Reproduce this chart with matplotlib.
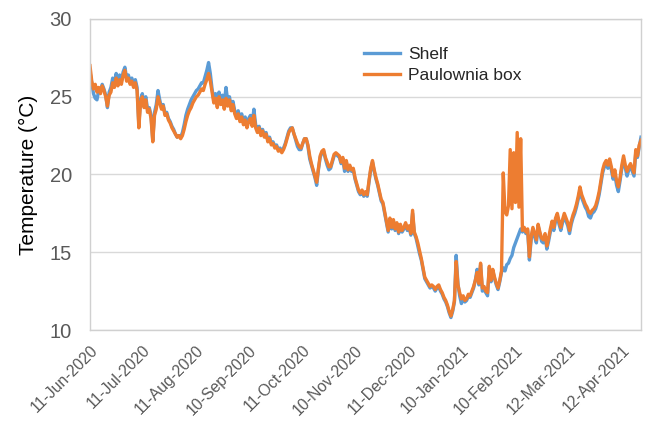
import matplotlib
matplotlib.use("Agg")
import matplotlib.pyplot as plt
import pandas as pd

start_date = "2020-06-11"

paulownia_box = [
    27.0, 26.0, 25.5, 25.8, 25.3, 25.6, 25.2, 25.7, 25.4, 25.0,
    24.4, 25.1, 25.3, 25.9, 25.6, 26.2, 25.7, 26.1, 25.8, 26.4,
    26.7, 26.0, 26.2, 25.8, 26.0, 25.6, 25.9, 25.4, 23.0, 24.6,
    25.0, 24.3, 24.8, 24.0, 24.2, 23.6, 22.1, 23.8, 24.2, 25.0,
    24.6, 24.2, 24.4, 23.8, 23.9, 23.5, 23.3, 23.0, 22.8, 22.6,
    22.4, 22.5, 22.3, 22.5, 22.9, 23.4, 23.8, 24.1, 24.3, 24.6,
    24.8, 25.0, 25.1, 25.3, 25.5, 25.4, 25.8, 26.1, 26.5, 26.0,
    25.3, 24.6, 24.9, 24.3, 25.0, 24.5, 24.8, 24.2, 24.9, 24.4,
    24.8, 24.1, 24.5, 23.9, 23.6, 23.9, 23.4, 23.7, 23.2, 23.5,
    23.0, 23.4, 23.6, 23.1, 23.8, 23.0, 22.7, 23.0, 22.5, 22.8,
    22.4, 22.6, 22.1, 22.3, 21.9, 22.0, 21.7, 21.8, 21.5, 21.6,
    21.4, 21.6, 21.9, 22.3, 22.7, 22.9, 23.0, 22.6, 22.3, 22.0,
    21.8, 21.7, 22.0, 22.3, 22.3, 21.9, 21.2, 20.7, 20.3, 19.9,
    19.5, 20.4, 21.2, 21.5, 21.6, 21.1, 20.8, 20.5, 20.5, 20.9,
    21.3, 21.4, 21.3, 21.2, 20.8, 21.1, 20.4, 20.9, 20.3, 20.6,
    20.3, 20.4, 19.8, 19.4, 19.0, 18.8, 19.0, 18.7, 18.9, 18.7,
    19.6, 20.4, 20.9, 20.3, 19.8, 19.4, 18.9, 18.4, 18.2, 17.6,
    17.0, 16.4, 17.2, 16.6, 17.1, 16.5, 16.9, 16.3, 16.8, 16.4,
    16.6, 16.9, 16.5, 16.7, 16.2, 17.7, 16.3, 16.0, 15.6, 15.1,
    14.6, 14.0, 13.4, 13.2, 13.0, 12.8, 12.9, 12.8, 12.6, 12.8,
    12.9, 12.6, 12.4, 12.1, 11.9, 11.6, 11.2, 10.9, 11.3, 11.9,
    14.4, 12.9, 12.4, 12.0, 12.2, 11.9, 12.0, 12.3, 12.2, 12.5,
    12.8, 13.2, 13.7, 13.0, 14.3, 12.7, 12.8, 12.5, 12.4, 14.1,
    13.2, 13.9, 13.4, 13.0, 12.7, 13.2, 13.8, 20.1, 17.6, 17.4,
    18.0, 21.6, 17.8, 21.4, 18.2, 22.7, 17.9, 22.3, 16.4, 16.6,
    16.3, 16.5, 14.7, 16.0, 16.6, 16.2, 15.8, 16.8, 16.3, 15.9,
    15.8, 16.2, 15.4, 15.9, 16.5, 17.0, 16.6, 17.2, 17.5, 17.0,
    16.6, 17.1, 17.5, 17.2, 16.9, 16.4, 17.0, 17.4, 17.7, 18.1,
    18.6, 19.2, 18.7, 18.4, 18.1, 17.9, 17.6, 17.5, 17.7, 17.8,
    18.0, 18.4, 18.9, 19.6, 20.3, 20.7, 20.9, 20.6, 21.0, 20.5,
    19.9, 20.3, 19.6, 19.2, 19.8, 20.6, 21.2, 20.6, 20.2, 20.5,
    20.7, 20.4, 20.1, 21.6, 21.2, 21.9, 22.2,
]

shelf = [
    26.6, 25.9, 25.2, 24.9, 24.8, 25.4, 25.3, 25.8, 25.5, 25.1,
    24.3, 25.3, 25.6, 26.2, 25.8, 26.5, 25.9, 26.4, 26.0, 26.6,
    26.9, 26.2, 26.4, 26.0, 26.2, 25.8, 26.1, 25.6, 23.2, 24.8,
    25.2, 24.5, 25.0, 24.2, 24.3, 23.8, 22.2, 24.0, 24.5, 25.4,
    24.8, 24.3, 24.5, 23.9, 24.0, 23.6, 23.4, 23.1, 22.9, 22.6,
    22.4, 22.5, 22.4, 22.7, 23.2, 23.8, 24.2, 24.5, 24.8, 25.0,
    25.2, 25.4, 25.5, 25.7, 25.9, 25.9, 26.3, 26.7, 27.2, 26.5,
    25.5, 24.8, 25.2, 24.6, 25.3, 24.8, 25.1, 24.6, 25.6, 24.7,
    25.0, 24.3, 24.7, 24.1, 23.8, 24.1, 23.6, 23.9, 23.4, 23.7,
    23.2, 23.6, 23.8, 23.3, 24.2, 23.2, 22.9, 23.1, 22.7, 22.9,
    22.5, 22.7, 22.2, 22.4, 22.0, 22.1, 21.8, 21.9, 21.6, 21.7,
    21.5, 21.7, 22.0, 22.4, 22.8, 23.0, 23.0, 22.6, 22.2, 21.8,
    21.6, 21.6, 22.0, 22.3, 22.3, 21.8, 21.0, 20.6, 20.2, 19.8,
    19.3, 20.3, 21.1, 21.4, 21.5, 21.0, 20.6, 20.3, 20.4, 20.8,
    21.2, 21.3, 21.2, 21.1, 20.7, 21.0, 20.2, 20.8, 20.2, 20.5,
    20.2, 20.3, 19.7, 19.3, 18.9, 18.7, 18.9, 18.6, 18.8, 18.6,
    19.5, 20.3, 20.8, 20.2, 19.7, 19.3, 18.8, 18.3, 18.1, 17.5,
    16.9, 16.3, 17.1, 16.5, 17.0, 16.4, 16.8, 16.2, 16.7, 16.3,
    16.5, 16.8, 16.4, 16.6, 16.1, 17.5, 16.2, 15.9, 15.4, 14.9,
    14.5, 13.9, 13.3, 13.1, 12.9, 12.7, 12.8, 12.7, 12.5, 12.7,
    12.8, 12.5, 12.3, 12.0, 11.8, 11.5, 11.1, 10.8, 11.2, 11.8,
    14.8, 13.0, 12.2, 11.7, 12.0, 11.8, 11.9, 12.2, 12.1, 12.4,
    12.7, 13.2, 13.9, 12.9, 14.2, 12.5, 12.6, 12.4, 12.2, 14.0,
    13.1, 13.8, 13.3, 12.9, 12.6, 13.1, 13.7, 14.0, 13.8, 14.2,
    14.3, 14.6, 14.8, 15.3, 15.6, 15.9, 16.2, 16.5, 16.3, 16.5,
    16.2, 16.4, 14.5, 15.8, 16.5, 16.0, 15.6, 16.7, 16.2, 15.7,
    15.6, 16.0, 15.2, 15.7, 16.3, 16.8, 16.4, 17.0, 17.3, 16.8,
    16.4, 16.9, 17.3, 17.0, 16.7, 16.2, 16.8, 17.2, 17.5, 17.9,
    18.4, 19.0, 18.5, 18.2, 17.9, 17.7, 17.3, 17.2, 17.5, 17.6,
    17.8, 18.2, 18.7, 19.4, 20.1, 20.5, 20.7, 20.4, 20.8, 20.3,
    19.7, 20.0, 19.3, 18.9, 19.6, 20.4, 21.0, 20.4, 19.9, 20.3,
    20.5, 20.2, 19.9, 21.4, 21.1, 21.8, 22.4,
]

tick_dates = ["2020-06-11", "2020-07-11", "2020-08-11", "2020-09-10", "2020-10-11",
              "2020-11-10", "2020-12-11", "2021-01-10", "2021-02-10", "2021-03-12",
              "2021-04-12"]
tick_labels = ["11-Jun-2020", "11-Jul-2020", "11-Aug-2020", "10-Sep-2020", "11-Oct-2020",
               "10-Nov-2020", "11-Dec-2020", "10-Jan-2021", "10-Feb-2021", "12-Mar-2021",
               "12-Apr-2021"]
y_ticks = [10, 15, 20, 25, 30]

plt.rcParams['font.family'] = ['Liberation Sans', 'DejaVu Sans']

dates = pd.date_range(start_date, periods=len(paulownia_box), freq="D")

fig = plt.figure(figsize=(6.47, 4.21), dpi=100)
ax = fig.add_axes([90/647, 91/421, 551/647, 311/421])

ax.plot(dates, shelf, color="#5B9BD5", lw=2.4, label="Shelf", solid_joinstyle="round")
ax.plot(dates, paulownia_box, color="#ED7D31", lw=2.4, label="Paulownia box", solid_joinstyle="round")

ax.set_xlim(dates[0], dates[-1])
ax.set_ylim(10, 30)
ax.set_yticks(y_ticks)
ax.yaxis.grid(True, color="#D9D9D9", lw=1.0)
ax.set_axisbelow(True)

ax.set_xticks(pd.to_datetime(tick_dates))
ax.set_xticklabels(tick_labels, rotation=45, ha="right", va="top", rotation_mode="anchor",
                   fontsize=11.3, color="#595959")
ax.tick_params(axis="x", length=0, pad=9)
ax.tick_params(axis="y", length=0, pad=13, labelsize=14.5, labelcolor="#595959")

for s in ax.spines.values():
    s.set_color("#D0D0D0")
    s.set_linewidth(1.0)

ax.set_ylabel("Temperature (°C)", fontsize=15, color="#000000", labelpad=8)

leg = ax.legend(loc="upper left", bbox_to_anchor=(0.475, 0.95), frameon=False,
                fontsize=12.5, handlelength=2.1, handletextpad=0.45, labelspacing=0.35,
                borderpad=0.2)
for t in leg.get_texts():
    t.set_color("#262626")

fig.savefig("out.png", dpi=100)
